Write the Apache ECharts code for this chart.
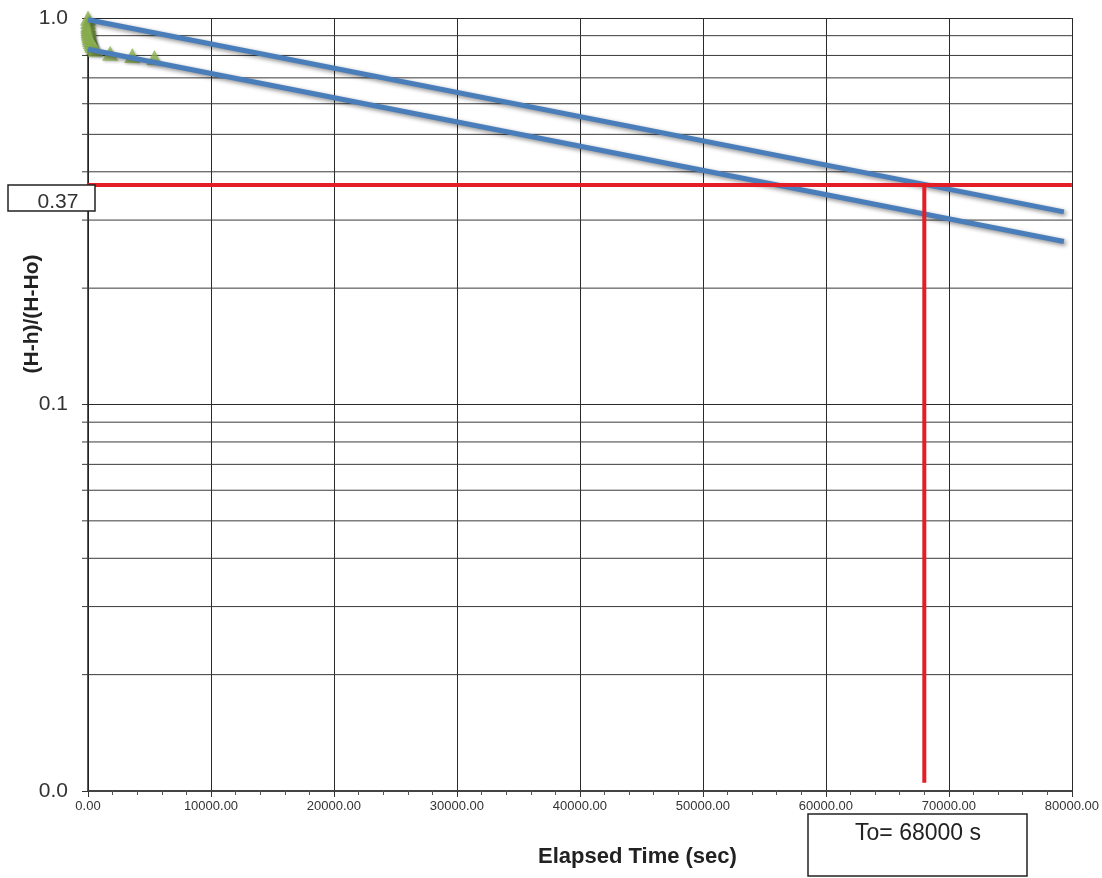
<!DOCTYPE html>
<html>
<head>
<meta charset="utf-8">
<script src="https://cdn.jsdelivr.net/npm/echarts@6/dist/echarts.min.js"></script>
<style>
html,body{margin:0;padding:0;background:#fff;}
#chart{width:1102px;height:878px;}
</style>
</head>
<body>
<div id="chart"></div>
<script>
// ---- data ----
const observedTime = [0, 10, 20, 30, 40, 50, 60, 90, 120, 150, 180, 240, 300, 360, 480, 600, 1800, 3600, 5400];
const observedRatio = [1.0, 0.98, 0.96, 0.95, 0.94, 0.93, 0.92, 0.91, 0.90, 0.89, 0.88, 0.87, 0.86, 0.85, 0.84, 0.83, 0.81, 0.80, 0.79];
const upperFitTime = [0, 79350];
const upperFitRatio = [0.99, 0.315];
const lowerFitTime = [0, 79350];
const lowerFitRatio = [0.83, 0.264];
const refRatio = 0.37;
const refTimeRange = [0, 80000];
const t0Time = 68000;
const t0RatioRange = [0.37, 0.0105];
const minorGridValues = [0.02, 0.03, 0.04, 0.05, 0.06, 0.07, 0.08, 0.09, 0.2, 0.3, 0.4, 0.5, 0.6, 0.7, 0.8, 0.9];
const xMin = 0, xMax = 80000, xInterval = 10000;
const yMin = 0.01, yMax = 1;

const FONT = 'Liberation Sans, Arial, sans-serif';
const pair = (xs, ys) => xs.map((x, i) => [x, ys[i]]);

const chart = echarts.init(document.getElementById('chart'));
chart.setOption({
  animation: false,
  backgroundColor: '#fff',
  grid: { left: 88, right: 29, top: 18, bottom: 87, containLabel: false },
  xAxis: {
    type: 'value', min: xMin, max: xMax, interval: xInterval,
    axisLine: { show: true, lineStyle: { color: '#444', width: 2 } },
    axisTick: { show: true, length: 6, lineStyle: { color: '#333', width: 1 } },
    minorTick: { show: true, splitNumber: 5, length: 4, lineStyle: { color: '#555', width: 1 } },
    axisLabel: { color: '#333', fontSize: 13, fontFamily: FONT, margin: 9,
      formatter: v => Number(v).toFixed(2) },
    splitLine: { show: true, lineStyle: { color: '#2a2a2a', width: 1 } }
  },
  yAxis: {
    type: 'log', logBase: 10, min: yMin, max: yMax, splitNumber: 2,
    axisLine: { show: true, lineStyle: { color: '#222', width: 1.5 } },
    axisTick: { show: true, length: 6, lineStyle: { color: '#333', width: 1 } },
    axisLabel: { color: '#333', fontSize: 21, fontFamily: FONT, margin: 20,
      formatter: v => Number(v).toFixed(1) },
    splitLine: { show: true, lineStyle: { color: '#2a2a2a', width: 1 } }
  },
  series: [
    {
      type: 'custom',
      name: 'minorGrid',
      silent: true,
      clip: false,
      z: 1,
      data: minorGridValues.map(v => [xMin, v]),
      renderItem: function (params, api) {
        const v = api.value(1);
        const p0 = api.coord([xMin, v]);
        const p1 = api.coord([xMax, v]);
        return {
          type: 'line',
          shape: { x1: p0[0] - 6, y1: p0[1], x2: p1[0], y2: p1[1] },
          style: { stroke: '#3a3a3a', lineWidth: 1 }
        };
      }
    },
    {
      type: 'line', name: 'upperFit', data: pair(upperFitTime, upperFitRatio),
      symbol: 'none', z: 3,
      lineStyle: { color: '#4a7ebb', width: 5, shadowBlur: 4, shadowColor: 'rgba(0,0,0,0.45)', shadowOffsetX: 2, shadowOffsetY: 2 }
    },
    {
      type: 'line', name: 'lowerFit', data: pair(lowerFitTime, lowerFitRatio),
      symbol: 'none', z: 3,
      lineStyle: { color: '#4a7ebb', width: 5, shadowBlur: 4, shadowColor: 'rgba(0,0,0,0.45)', shadowOffsetX: 2, shadowOffsetY: 2 }
    },
    {
      type: 'line', name: 'ref037', data: refTimeRange.map(x => [x, refRatio]),
      symbol: 'none', z: 4,
      lineStyle: { color: '#e41e26', width: 4 }
    },
    {
      type: 'line', name: 'refT0', data: t0RatioRange.map(y => [t0Time, y]),
      symbol: 'none', z: 4,
      lineStyle: { color: '#e41e26', width: 4 }
    },
    {
      type: 'scatter', name: 'observed', data: pair(observedTime, observedRatio),
      symbol: 'triangle', symbolSize: [16, 15], z: 2,
      itemStyle: { color: '#8fb452', shadowBlur: 3, shadowColor: 'rgba(0,0,0,0.3)', shadowOffsetX: 1, shadowOffsetY: 1 }
    }
  ],
  graphic: [
    { type: 'text', left: 538, top: 846, z: 100,
      style: { text: 'Elapsed Time (sec)', fontSize: 22, fontWeight: 'bold', fontFamily: FONT, fill: '#222' } },
    { type: 'text', x: 32, y: 314, rotation: Math.PI / 2, z: 100,
      style: { text: '(H-h)/(H-Ho)', fontSize: 21, fontWeight: 'bold', fontFamily: FONT, fill: '#222', align: 'center', verticalAlign: 'middle' } },
    { type: 'rect', z: 100, shape: { x: 8, y: 185, width: 87, height: 26 },
      style: { fill: '#fff', stroke: '#222', lineWidth: 1.5 } },
    { type: 'text', x: 58, y: 202, z: 101,
      style: { text: '0.37', fontSize: 21, fontFamily: FONT, fill: '#333', align: 'center', verticalAlign: 'middle' } },
    { type: 'rect', z: 100, shape: { x: 808, y: 814, width: 219, height: 62 },
      style: { fill: '#fff', stroke: '#222', lineWidth: 1.5 } },
    { type: 'text', x: 918, y: 834, z: 101,
      style: { text: 'To= 68000 s', fontSize: 23, fontFamily: FONT, fill: '#222', align: 'center', verticalAlign: 'middle' } }
  ]
});
</script>
</body>
</html>
